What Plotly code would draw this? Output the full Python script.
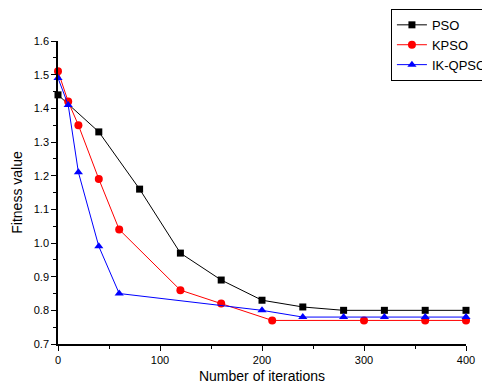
import plotly.graph_objects as go

pso_x = [0, 40, 80, 120, 160, 200, 240, 280, 320, 360, 400]
pso_y = [1.44, 1.33, 1.16, 0.97, 0.89, 0.83, 0.81, 0.80, 0.80, 0.80, 0.80]

kpso_x = [0, 10, 20, 40, 60, 120, 160, 210, 300, 360, 400]
kpso_y = [1.51, 1.42, 1.35, 1.19, 1.04, 0.86, 0.82, 0.77, 0.77, 0.77, 0.77]

ikq_x = [0, 10, 20, 40, 60, 200, 240, 280, 320, 360, 400]
ikq_y = [1.49, 1.41, 1.21, 0.99, 0.85, 0.80, 0.78, 0.78, 0.78, 0.78, 0.78]

x_ticks = [0, 100, 200, 300, 400]
y_ticks = [0.7, 0.8, 0.9, 1.0, 1.1, 1.2, 1.3, 1.4, 1.5, 1.6]

fig = go.Figure()
fig.add_trace(go.Scatter(x=pso_x, y=pso_y, name="PSO", mode="lines+markers",
                         line=dict(color="black", width=1),
                         marker=dict(symbol="square", size=7, color="black"),
                         cliponaxis=False))
fig.add_trace(go.Scatter(x=kpso_x, y=kpso_y, name="KPSO", mode="lines+markers",
                         line=dict(color="red", width=1),
                         marker=dict(symbol="circle", size=8, color="red"),
                         cliponaxis=False))
fig.add_trace(go.Scatter(x=ikq_x, y=ikq_y, name="IK-QPSO", mode="lines+markers",
                         line=dict(color="blue", width=1),
                         marker=dict(symbol="triangle-up", size=8, color="blue"),
                         cliponaxis=False))

font = "Liberation Sans, Arial, sans-serif"
fig.update_layout(
    width=482, height=384,
    margin=dict(l=50, r=24, t=33, b=48, autoexpand=False),
    plot_bgcolor="white", paper_bgcolor="white",
    font=dict(family=font, size=12, color="black"),
    legend=dict(x=0.816, y=1.106, xanchor="left", yanchor="top",
                bordercolor="black", borderwidth=1, bgcolor="white",
                font=dict(size=13), tracegroupgap=0, itemwidth=30),
    showlegend=True,
)
fig.update_xaxes(range=[0, 400], tickvals=x_ticks, showgrid=False, zeroline=False,
                 showline=True, linecolor="black", linewidth=1.5,
                 ticks="outside", ticklen=5, tickcolor="black",
                 minor=dict(ticks="outside", dtick=50, ticklen=3, tickcolor="black"),
                 title=dict(text="Number of iterations", font=dict(size=14), standoff=6),
                 tickfont=dict(size=11))
fig.update_yaxes(range=[0.7, 1.6], tickvals=y_ticks, tickformat=".1f", showgrid=False,
                 zeroline=False, showline=True, linecolor="black", linewidth=1.5,
                 ticks="outside", ticklen=5, tickcolor="black",
                 minor=dict(ticks="outside", dtick=0.05, ticklen=3, tickcolor="black"),
                 title=dict(text="Fitness value", font=dict(size=14), standoff=8),
                 tickfont=dict(size=11))

fig.write_html("out.html")
